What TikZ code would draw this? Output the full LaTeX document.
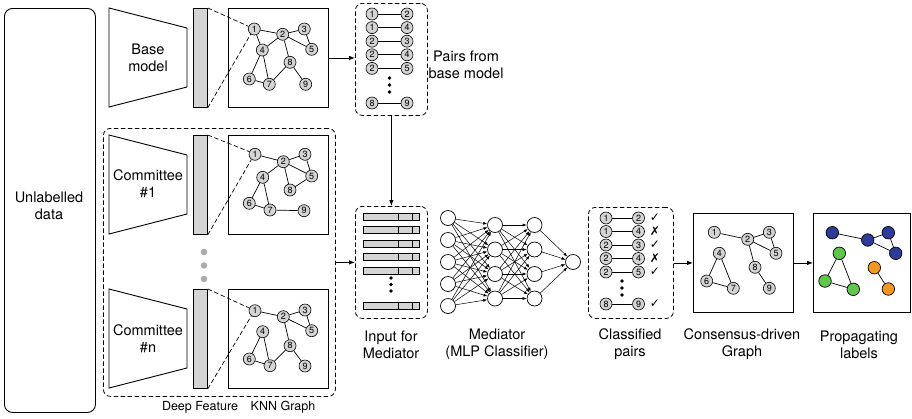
\documentclass[tikz,border=0pt]{standalone}
\usepackage{fontspec}
\setmainfont{TeX Gyre Heros}
\newfontfamily\symfont{DejaVu Sans}
\usetikzlibrary{arrows.meta}
\definecolor{nodegray}{RGB}{212,212,212}
\definecolor{dotgray}{RGB}{172,172,172}
\definecolor{pblue}{RGB}{45,60,155}
\definecolor{pgreen}{RGB}{95,200,75}
\definecolor{porange}{RGB}{245,150,30}
\begin{document}
\begin{tikzpicture}[x=1pt,y=-1pt,
  ln/.style={line width=0.7pt},
  gn/.style={circle,draw,fill=nodegray,minimum size=12pt,inner sep=0pt,line width=0.6pt,font=\fontsize{9}{9}\selectfont},
  pn/.style={circle,draw,minimum size=12.5pt,inner sep=0pt,line width=0.7pt},
  sbox/.style={draw,line width=0.9pt,inner sep=0pt,anchor=north west},
  dbox/.style={draw,dash pattern=on 4.5pt off 2.5pt,rounded corners=7pt,line width=0.8pt,inner sep=0pt,anchor=north west},
  bar/.style={draw,fill=nodegray,line width=0.8pt,inner sep=0pt,anchor=north west},
  lab/.style={align=center,font=\fontsize{14.5}{17}\selectfont},
  slab/.style={align=center,font=\fontsize{12.5}{15}\selectfont},
  arr/.style={-{Latex[length=6pt,width=4.5pt]},line width=0.8pt},
  mn/.style={circle,draw,fill=white,minimum size=15pt,inner sep=0pt,line width=0.7pt},
  marr/.style={-{Latex[length=4pt,width=3pt]},line width=0.5pt},
  ddash/.style={dash pattern=on 4.5pt off 2.5pt,line width=0.7pt}
]
\useasboundingbox (0,0) rectangle (912,418);

% Unlabelled data
\node[draw,line width=0.9pt,rounded corners=8pt,minimum width=91pt,minimum height=404pt,anchor=north west,inner sep=0pt] (unl) at (4,8) {};
\node[lab] (unltxt) at (49,206) {Unlabelled\\data};

% ---------- Base model ----------
\draw[line width=0.9pt] (109,8) -- (187,28) -- (187,87) -- (109,107) -- cycle;
\node[lab] (basetxt) at (148,58) {Base\\model};
\node[bar,minimum width=14pt,minimum height=99pt] (bbar) at (193,8) {};
\node[sbox,minimum width=100pt,minimum height=99pt] (bbox) at (228,8) {};
\foreach \i/\x/\y in {1/254.3/29,2/282.7/34.3,3/304.3/29,4/262.3/50,5/311.7/49.3,6/249.3/79,7/269.3/84.3,8/290/62.3,9/305.7/84.3}
  \node[gn] (b\i) at (\x,\y) {\i};
\foreach \a/\b in {1/2,1/4,2/3,2/4,2/5,3/5,2/8,4/6,4/7,6/7,7/8,8/9}
  \draw[ln] (b\a) -- (b\b);
\draw[ddash] (bbar.north east) -- (b1.155);
\draw[ddash] (bbar.south east) -- (b1.235);

% ---------- Committee group ----------
\node[dbox,minimum width=232pt,minimum height=268pt] (com) at (103,128) {};

% Committee #1
\draw[line width=0.9pt] (109,135) -- (187,155) -- (187,214) -- (109,234) -- cycle;
\node[lab] (c1txt) at (148,184) {Committee\\\#1};
\node[bar,minimum width=14pt,minimum height=99pt] (cbar) at (193,135) {};
\node[sbox,minimum width=100pt,minimum height=99pt] (cbox) at (228,135) {};
\foreach \i/\x/\y in {1/255/154.3,2/283.3/161.7,3/305/154.3,4/262.7/177.3,5/311.7/176,6/249.3/203.3,7/270/210,8/290/190,9/304/210.7}
  \node[gn] (c\i) at (\x,\y) {\i};
\foreach \a/\b in {1/2,2/3,2/4,2/5,2/8,3/5,5/8,4/6,4/7,6/7,7/9}
  \draw[ln] (c\a) -- (c\b);
\draw[ddash] (cbar.north east) -- (c1.155);
\draw[ddash] (cbar.south east) -- (c1.235);

% vertical dots
\foreach \y in {252,265.5,279}
  \fill[dotgray] (204,\y) circle (3.3pt);

% Committee #n
\draw[line width=0.9pt] (109,289) -- (187,309) -- (187,368) -- (109,388) -- cycle;
\node[lab] (cntxt) at (148,339) {Committee\\\#n};
\node[bar,minimum width=14pt,minimum height=99pt] (nbar) at (193,289) {};
\node[sbox,minimum width=100pt,minimum height=99pt] (nbox) at (228,289) {};
\foreach \i/\x/\y in {1/255/310.7,2/283.3/316.7,3/305/310,4/262.7/331.7,5/311.7/330.7,6/249.3/359,7/270/365.7,8/290/345.7,9/305/366}
  \node[gn] (n\i) at (\x,\y) {\i};
\foreach \a/\b in {1/2,2/3,2/5,3/5,2/8,7/8,8/9,4/6,4/7,6/7}
  \draw[ln] (n\a) -- (n\b);
\draw[ddash] (nbar.north east) -- (n1.155);
\draw[ddash] (nbar.south east) -- (n1.235);

\node[slab] (dftxt) at (200,407) {Deep Feature};
\node[slab] (kntxt) at (283,407) {KNN Graph};

% ---------- Pairs from base model ----------
\node[dbox,minimum width=72pt,minimum height=112pt] (pairs) at (355,3) {};
\foreach \r/\a/\b/\y in {1/1/2/14,2/1/4/27.6,3/2/3/41.2,4/2/4/54.8,5/2/5/68.4,6/8/9/103}{
  \node[gn] (pl\r) at (372,\y) {\a};
  \node[gn] (pr\r) at (407,\y) {\b};
  \draw[ln] (pl\r) -- (pr\r);
}
\foreach \y in {78,85,92}
  \fill (389.5,\y) circle (1.9pt);
\node[lab] (pairstxt) at (466,65) {Pairs from\\base model};

% ---------- Input for Mediator ----------
\node[dbox,minimum width=72pt,minimum height=112pt] (inp) at (355,206) {};
\foreach \r/\y in {1/216.5,2/230,3/243.5,4/257,5/270.5,6/306}{
  \node[bar,anchor=west,minimum width=56pt,minimum height=7pt] (ib\r) at (363,\y) {};
  \draw[line width=0.6pt] ([xshift=35pt]ib\r.north west) -- ([xshift=35pt]ib\r.south west);
  \draw[line width=0.6pt] ([xshift=49pt]ib\r.north west) -- ([xshift=49pt]ib\r.south west);
}
\foreach \y in {278,284.5,291}
  \fill (391,\y) circle (1.9pt);
\node[lab] (inptxt) at (391,344.5) {Input for\\Mediator};

% ---------- MLP ----------
\foreach \i/\y in {1/218,2/240,3/262,4/284,5/306}
  \node[mn] (ma\i) at (448,\y) {};
\foreach \i/\y in {1/225,2/249.5,3/274,4/298.5}{
  \node[mn] (mb\i) at (495,\y) {};
  \node[mn] (mc\i) at (534.5,\y) {};
}
\node[mn] (md) at (573,262) {};
\foreach \i in {1,...,5}
  \foreach \j in {1,...,4}
    \draw[marr] (ma\i) -- (mb\j);
\foreach \i in {1,...,4}{
  \foreach \j in {1,...,4}
    \draw[marr] (mb\i) -- (mc\j);
  \draw[marr] (mc\i) -- (md);
}
\node[lab] (mlptxt) at (497,344.5) {Mediator\\(MLP Classifier)};

% ---------- Classified pairs ----------
\node[dbox,minimum width=85pt,minimum height=111pt] (cls) at (588,207) {};
\foreach \r/\a/\b/\y/\m in {1/1/2/218/✓,2/1/4/231.5/✗,3/2/3/245/✓,4/2/4/258.5/✗,5/2/5/272/✓,6/8/9/304/✓}{
  \node[gn] (kl\r) at (606,\y) {\a};
  \node[gn] (kr\r) at (638.5,\y) {\b};
  \draw[ln] (kl\r) -- (kr\r);
  \node[font=\symfont\fontsize{12}{12}\selectfont,inner sep=0pt] (km\r) at (655,\y) {\m};
}
\foreach \y in {281,288,295}
  \fill (622,\y) circle (1.9pt);
\node[lab] (clstxt) at (630,344.5) {Classified\\pairs};

% ---------- Consensus-driven graph ----------
\node[sbox,minimum width=100pt,minimum height=99pt] (cons) at (693,213) {};
\foreach \i/\x/\y in {1/714.3/232.3,2/747.7/239.3,3/769.3/232.3,4/719.3/253.3,5/776/253.3,6/706.7/281,7/733.3/288.3,8/755/267.3,9/769.3/288.3}
  \node[gn] (g\i) at (\x,\y) {\i};
\foreach \a/\b in {1/2,2/3,2/5,3/5,2/8,8/9,4/6,4/7,6/7}
  \draw[ln] (g\a) -- (g\b);
\node[lab] (constxt) at (742,344.5) {Consensus-driven\\Graph};

% ---------- Propagating labels ----------
\node[sbox,minimum width=97pt,minimum height=99pt] (prop) at (813,213) {};
\foreach \i/\x/\y/\c in {1/832.3/232.7/pblue,2/867.7/240/pblue,3/888.3/232.7/pblue,4/895.7/253.3/pblue,5/839.3/253.3/pgreen,6/825/281/pgreen,7/853.3/289.3/pgreen,8/874.3/267.7/porange,9/888.3/289/porange}
  \node[pn,fill=\c] (q\i) at (\x,\y) {};
\foreach \a/\b in {1/2,2/3,2/4,3/4,5/6,5/7,6/7,8/9}
  \draw[ln] (q\a) -- (q\b);
\node[lab] (proptxt) at (859,344.5) {Propagating\\labels};

% ---------- Arrows ----------
\draw[arr] (bbox.east) -- (bbox.east -| pairs.west);
\draw[arr] (pairs.south) -- (inp.north);
\draw[arr] (com.east) -- (com.east -| inp.west);
\draw[arr] (cls.east) -- (cls.east -| cons.west);
\draw[arr] (cons.east) -- (cons.east -| prop.west);
\end{tikzpicture}
\end{document}
